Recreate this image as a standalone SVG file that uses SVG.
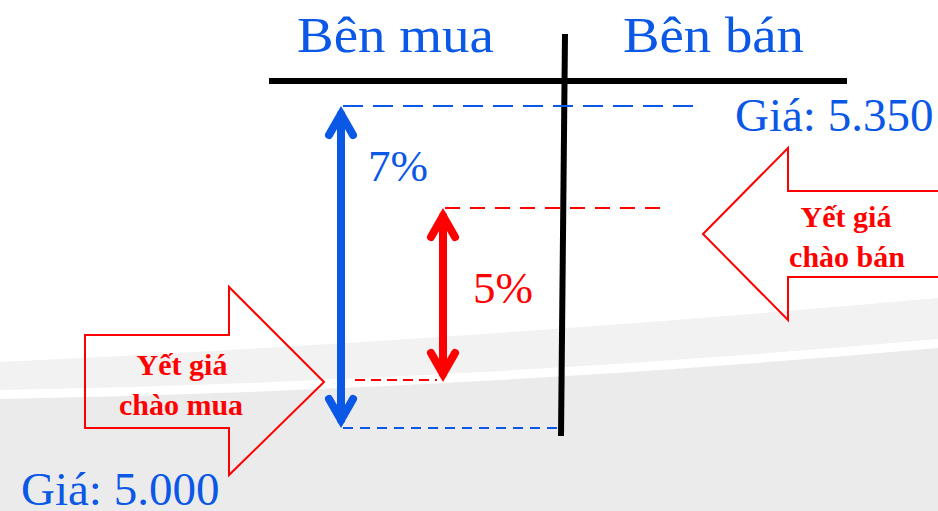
<svg xmlns="http://www.w3.org/2000/svg" width="938" height="511" viewBox="0 0 938 511">
<defs>
<style>
.blue{fill:#0b57e6;font-family:"Liberation Serif","Times New Roman",serif;}
.red{fill:#ff0000;font-family:"Liberation Serif","Times New Roman",serif;}
.lbl{fill:#ff0000;font-family:"Liberation Serif","Times New Roman",serif;font-weight:bold;font-size:30px;text-anchor:middle;}
.blk{fill:none;stroke:#ff0000;stroke-width:2;stroke-linejoin:miter;}
.axis{stroke:#000;stroke-width:6;fill:none;}
.dash{fill:none;stroke-width:2;}
.arr{fill:none;stroke-width:8;stroke-linecap:round;stroke-linejoin:miter;stroke-miterlimit:10;}
</style>
</defs>
<g id="background">
<rect x="0" y="0" width="938" height="511" fill="#ffffff"/>
<path d="M0,362 Q469,340 938,298 L938,511 L0,511 Z" fill="#f2f2f2"/>
<path d="M0,390 Q469,381 938,339 L938,511 L0,511 Z" fill="#ffffff"/>
<path d="M0,399 Q469,390 938,348 L938,511 L0,511 Z" fill="#ebebeb"/>
</g>
<g id="axes">
<line class="axis" x1="269" y1="81" x2="847" y2="81"/>
<line class="axis" x1="565" y1="34" x2="561" y2="436"/>
</g>
<g id="title-buy"><text class="blue" x="297" y="52" font-size="50" textLength="197" lengthAdjust="spacingAndGlyphs">Bên mua</text></g>
<g id="title-sell"><text class="blue" x="623" y="52" font-size="50" textLength="181" lengthAdjust="spacingAndGlyphs">Bên bán</text></g>
<g id="price-high"><text class="blue" x="735" y="131" font-size="47">Giá: 5.350</text></g>
<g id="price-low"><text class="blue" x="21" y="505" font-size="47">Giá: 5.000</text></g>
<g id="pct-7"><text class="blue" x="368" y="181" font-size="45">7%</text></g>
<g id="pct-5"><text class="red" x="473" y="303" font-size="45">5%</text></g>
<g id="ask-arrow">
<path class="blk" d="M703,234 L788,148 L788,191 L942,191 L942,277 L788,277 L788,320 Z"/>
<text class="lbl" x="846" y="227">Yết giá</text>
<text class="lbl" x="847" y="267">chào bán</text>
</g>
<g id="bid-arrow">
<path class="blk" d="M85,335 L229,335 L229,287 L324,382 L229,475 L229,428 L85,428 Z"/>
<text class="lbl" x="182" y="375">Yết giá</text>
<text class="lbl" x="181" y="415">chào mua</text>
</g>
<g id="connectors">
<line class="dash" stroke="#0b57e6" stroke-dasharray="20 10" x1="343" y1="106" x2="703" y2="106"/>
<line class="dash" stroke="#0b57e6" stroke-dasharray="10 7" x1="343" y1="428" x2="557" y2="428"/>
<line class="dash" stroke="#ff0000" stroke-dasharray="15 10" x1="445" y1="208" x2="668" y2="208"/>
<line class="dash" stroke="#ff0000" stroke-dasharray="10 6" x1="355" y1="380" x2="437" y2="380"/>
<g stroke="#0b57e6" class="arr">
<line x1="341" y1="114" x2="341" y2="420"/>
<polyline points="329,135 341,114 353,135"/>
<polyline points="329,399 341,420 353,399"/>
</g>
<g stroke="#ff0000" class="arr">
<line x1="443" y1="216" x2="443" y2="374"/>
<polyline points="431,237 443,216 455,237"/>
<polyline points="431,353 443,374 455,353"/>
</g>
</g>
</svg>
